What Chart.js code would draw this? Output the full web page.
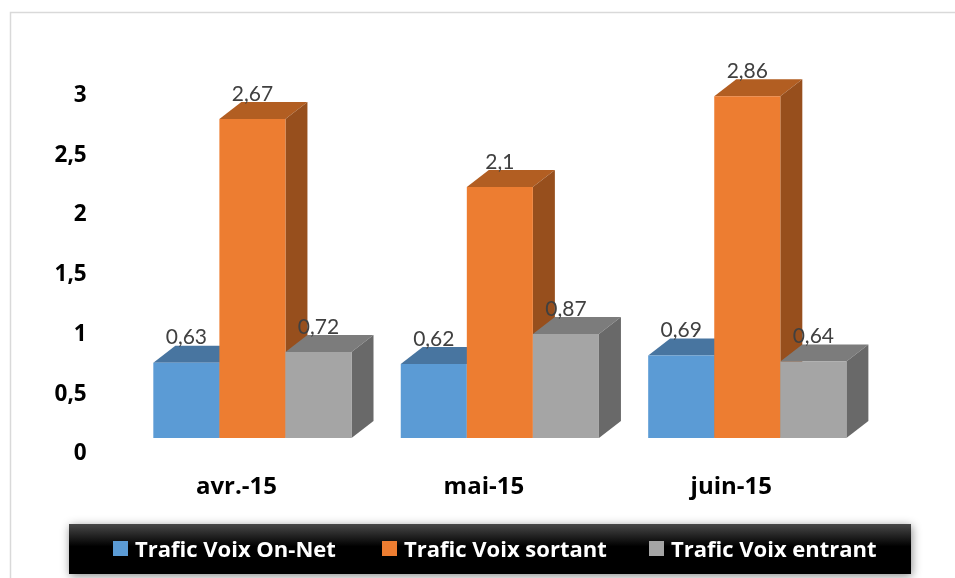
<!DOCTYPE html>
<html>
<head>
<meta charset="utf-8">
<style>
    html, body { margin: 0; padding: 0; background: #fff; }
    #wrap { width: 955px; height: 578px; position: relative; }
</style>
<script src="https://cdn.jsdelivr.net/npm/chart.js@4"></script>
</head>
<body>
<div id="wrap"><canvas id="chart" width="955" height="578"></canvas></div>
<script>
const months = ['avr.-15', 'mai-15', 'juin-15'];
const seriesNames = ['Trafic Voix On-Net', 'Trafic Voix sortant', 'Trafic Voix entrant'];
const onNet = [0.63, 0.62, 0.69];
const sortant = [2.67, 2.1, 2.86];
const entrant = [0.72, 0.87, 0.64];
const frontColors = ['#5B9BD5', '#ED7D31', '#A5A5A5'];
const topColors = ['#4875A0', '#B25E22', '#7C7C7C'];
const sideColors = ['#3E6690', '#974F1D', '#696969'];

const DEPTH_X = 22;
const DEPTH_Y = 17;

function comma(v) {
    return String(v).replace('.', ',');
}

function poly(ctx, pts, color) {
    ctx.fillStyle = color;
    ctx.beginPath();
    pts.forEach((p, i) => i ? ctx.lineTo(p[0], p[1]) : ctx.moveTo(p[0], p[1]));
    ctx.closePath();
    ctx.fill();
}

// Chart.js paints the last dataset first, the boxes need the opposite,
// so skip its pass and paint left to right: top, side, then the front bar
const depthBars = {
    id: 'depthBars',
    beforeDatasetDraw() {
        return false;
    },
    afterDatasetsDraw(chart) {
        const ctx = chart.ctx;
        chart.data.datasets.forEach((ds, i) => {
            const meta = chart.getDatasetMeta(i);
            meta.data.forEach(bar => {
                const l = bar.x - bar.width / 2;
                const r = bar.x + bar.width / 2;
                poly(ctx, [[l, bar.y], [l + DEPTH_X, bar.y - DEPTH_Y], [r + DEPTH_X, bar.y - DEPTH_Y], [r, bar.y]], topColors[i]);
                poly(ctx, [[r, bar.y], [r + DEPTH_X, bar.y - DEPTH_Y], [r + DEPTH_X, bar.base - DEPTH_Y], [r, bar.base]], sideColors[i]);
            });
            meta.controller.draw();
        });

        // value labels
        ctx.save();
        ctx.font = '21px Lato';
        ctx.fillStyle = '#404040';
        ctx.textAlign = 'center';
        ctx.textBaseline = 'middle';
        chart.data.datasets.forEach((ds, i) => {
            chart.getDatasetMeta(i).data.forEach((bar, j) => {
                ctx.fillText(comma(ds.data[j]), bar.x, bar.y - 25);
            });
        });
        ctx.restore();
    }
};

// outer frame and the black legend strip
const frameLegend = {
    id: 'frameLegend',
    beforeDraw(chart) {
        const ctx = chart.ctx;
        ctx.save();
        ctx.strokeStyle = '#D9D9D9';
        ctx.lineWidth = 1.5;
        ctx.beginPath();
        ctx.moveTo(10.5, 578);
        ctx.lineTo(10.5, 12.5);
        ctx.lineTo(955, 12.5);
        ctx.stroke();
        ctx.restore();
    },
    afterDraw(chart) {
        const ctx = chart.ctx;
        ctx.save();
        const grad = ctx.createLinearGradient(0, 524, 0, 574);
        grad.addColorStop(0, '#484848');
        grad.addColorStop(0.45, '#000000');
        grad.addColorStop(1, '#000000');
        ctx.shadowColor = 'rgba(0,0,0,0.45)';
        ctx.shadowBlur = 9;
        ctx.shadowOffsetX = 1;
        ctx.shadowOffsetY = 2;
        ctx.fillStyle = grad;
        ctx.fillRect(69, 524, 842, 50);
        ctx.shadowColor = 'transparent';

        const starts = [113, 382, 649];
        ctx.font = 'bold 22px "Open Sans"';
        ctx.textBaseline = 'middle';
        seriesNames.forEach((name, i) => {
            ctx.fillStyle = frontColors[i];
            ctx.fillRect(starts[i], 541, 15, 15);
            ctx.fillStyle = '#ffffff';
            ctx.fillText(name, starts[i] + 22, 551);
        });
        ctx.restore();
    }
};

new Chart(document.getElementById('chart'), {
    type: 'bar',
    data: {
        labels: months,
        datasets: [
            { label: seriesNames[0], data: onNet, backgroundColor: frontColors[0] },
            { label: seriesNames[1], data: sortant, backgroundColor: frontColors[1] },
            { label: seriesNames[2], data: entrant, backgroundColor: frontColors[2] }
        ]
    },
    plugins: [frameLegend, depthBars],
    options: {
        responsive: false,
        animation: false,
        layout: { padding: { left: 0, right: 84, top: 79.5, bottom: 0 } },
        categoryPercentage: 0.801,
        barPercentage: 1,
        plugins: {
            legend: { display: false },
            tooltip: { enabled: false }
        },
        scales: {
            x: {
                grid: { display: false, drawTicks: false },
                border: { display: false },
                afterFit: scale => { scale.height = 140; },
                ticks: {
                    color: '#000',
                    font: { family: '"Open Sans"', weight: 'bold', size: 24 },
                    padding: 35,
                    labelOffset: -16,
                    maxRotation: 0
                }
            },
            y: {
                min: 0,
                max: 3,
                grid: { display: false, drawTicks: false },
                border: { display: false },
                afterFit: scale => { scale.width = 128.7; },
                ticks: {
                    stepSize: 0.5,
                    color: '#000',
                    font: { family: '"Open Sans"', weight: 'bold', size: 22.5 },
                    padding: 42,
                    labelOffset: 16,
                    callback: v => comma(v)
                }
            }
        }
    }
});
</script>
</body>
</html>
